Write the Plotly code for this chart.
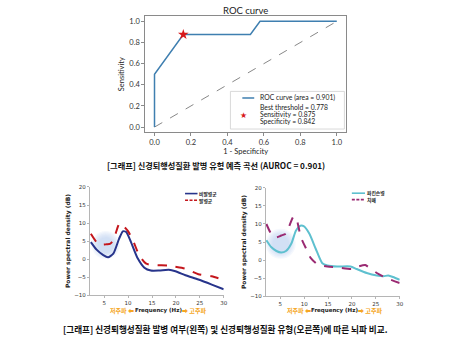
import plotly.graph_objects as go

W, H = 450, 340

# ---- ROC data ----
roc_fpr = [0.0, 0.0, 0.158, 0.526, 0.579, 1.0]
roc_tpr = [0.0, 0.5, 0.875, 0.875, 1.0, 1.0]
best_fpr, best_tpr = 0.158, 0.875
roc_auc = 0.901
best_threshold = 0.778
sensitivity = 0.875
specificity = 0.842

# ---- PSD data (left: onset vs non-onset) ----
freq_nononset = [2.2, 3.4, 4.8, 5.8, 6.9, 8.1, 8.9, 9.6, 10.6, 12.0, 13.4, 14.75, 16.5, 18.5, 19.9, 22.0, 24.7, 27.5, 30.0]
psd_nononset = [4.7, 2.6, 1.1, 0.5, 1.5, 5.6, 7.7, 7.5, 4.7, 0.2, -2.4, -3.2, -3.2, -3.0, -3.4, -4.5, -5.7, -7.1, -8.4]
freq_onset = [2.2, 3.4, 4.5, 5.5, 6.2, 6.9, 7.7, 8.2, 8.9, 9.9, 11.0, 12.3, 13.7, 15.1, 18.5, 19.6, 22.0, 24.7, 27.5, 30.0]
psd_onset = [7.0, 4.7, 4.0, 4.1, 4.2, 5.2, 8.4, 9.9, 9.3, 7.9, 5.2, 1.1, -1.2, -1.7, -1.8, -2.1, -2.7, -4.2, -4.8, -5.8]

# ---- PSD data (right: Parkinson's vs dementia) ----
freq_pd = [2.1, 3.1, 4.2, 5.2, 6.2, 7.3, 8.3, 9.2, 9.9, 11.1, 12.4, 13.8, 14.85, 16.9, 19.7, 21.0, 23.1, 25.2, 26.6, 27.6, 28.6, 30.0]
psd_pd = [5.5, 3.6, 2.5, 2.1, 2.5, 4.5, 8.2, 9.5, 9.4, 7.3, 3.2, -0.9, -1.5, -1.8, -1.8, -2.5, -3.6, -4.3, -4.5, -4.3, -4.7, -5.5]
freq_dem = [2.1, 3.1, 4.2, 5.2, 6.2, 6.9, 7.8, 8.5, 9.3, 10.4, 11.4, 12.8, 14.85, 16.9, 20.0, 21.4, 22.8, 23.8, 25.2, 27.2, 30.0]
psd_dem = [10.0, 7.3, 6.3, 6.8, 7.3, 9.5, 12.1, 10.9, 6.4, 3.2, 0.5, -1.2, -1.8, -2.0, -2.5, -1.8, -1.4, -2.3, -3.6, -5.0, -6.4]

freq_ticks = [5, 10, 15, 20, 25, 30]
psd_ticks = [-10, -5, 0, 5, 10, 15, 20]
roc_ticks = [0.0, 0.2, 0.4, 0.6, 0.8, 1.0]

left_names = ["비발병군", "발병군"]
right_names = ["파킨슨병", "치매"]

C_ROC = "#3f7fb0"
C_NON = "#27348b"
C_ONS = "#c4161c"
C_PD = "#5ec0cf"
C_DEM = "#9a2a72"
ORANGE = "#f5a623"

KFONT = "Noto Sans CJK KR"
RFONT = "Lato"


def px(x):
    return x / W


def py(y):
    return 1 - y / H


fig = go.Figure()

# ROC panel
fig.add_trace(go.Scatter(x=[0, 1], y=[0, 1], mode="lines",
                         line=dict(color="#888", width=1, dash="dash"),
                         xaxis="x", yaxis="y", showlegend=False))
fig.add_trace(go.Scatter(x=roc_fpr, y=roc_tpr, mode="lines",
                         line=dict(color=C_ROC, width=1.5),
                         xaxis="x", yaxis="y", showlegend=False))
fig.add_trace(go.Scatter(x=[best_fpr], y=[best_tpr], mode="markers",
                         marker=dict(symbol="star", size=8, color="#d7191c"),
                         xaxis="x", yaxis="y", showlegend=False))

# left PSD panel
fig.add_trace(go.Scatter(x=freq_nononset, y=psd_nononset, mode="lines",
                         line=dict(color=C_NON, width=2, shape="spline", smoothing=0.6),
                         xaxis="x2", yaxis="y2", showlegend=False))
fig.add_trace(go.Scatter(x=freq_onset, y=psd_onset, mode="lines",
                         line=dict(color=C_ONS, width=2, dash="dash", shape="spline", smoothing=0.6),
                         xaxis="x2", yaxis="y2", showlegend=False))

# right PSD panel
fig.add_trace(go.Scatter(x=freq_pd, y=psd_pd, mode="lines",
                         line=dict(color=C_PD, width=2, shape="spline", smoothing=0.6),
                         xaxis="x3", yaxis="y3", showlegend=False))
fig.add_trace(go.Scatter(x=freq_dem, y=psd_dem, mode="lines",
                         line=dict(color=C_DEM, width=2, dash="dash", shape="spline", smoothing=0.6),
                         xaxis="x3", yaxis="y3", showlegend=False))

roc_axis = dict(showline=True, mirror=True, linecolor="#8a8a8a", linewidth=1.2,
                ticks="outside", ticklen=3, tickcolor="#8a8a8a",
                showgrid=False, zeroline=False, tickvals=roc_ticks, tickformat=".1f",
                range=[-0.05, 1.05],
                tickfont=dict(family=RFONT, size=7.5, color="#333"))
psd_x = dict(showline=True, linecolor="#b5b5b5", linewidth=1, ticks="outside", ticklen=2,
             tickcolor="#b5b5b5", showgrid=False, zeroline=False, range=[2, 30],
             tickvals=freq_ticks, tickfont=dict(family="DejaVu Sans", size=5.5, color="#333"))
psd_y = dict(showline=True, linecolor="#b5b5b5", linewidth=1, ticks="outside", ticklen=2,
             tickcolor="#b5b5b5", showgrid=False, zeroline=False, range=[-10, 20],
             tickvals=psd_ticks, tickfont=dict(family="DejaVu Sans", size=5.5, color="#333"))

ytitle_font = dict(family="DejaVu Sans", size=6, color="#222")

fig.update_layout(
    width=W, height=H, margin=dict(l=0, r=0, t=0, b=0),
    paper_bgcolor="white", plot_bgcolor="white", showlegend=False,
    xaxis=dict(roc_axis, domain=[px(146.7), px(349)], anchor="y",
               title=dict(text="1 - Specificity", font=dict(family=RFONT, size=7.5, color="#222"), standoff=2)),
    yaxis=dict(roc_axis, domain=[py(131.7), py(13.3)], anchor="x",
               title=dict(text="Sensitivity", font=dict(family=RFONT, size=7.5, color="#222"), standoff=3)),
    xaxis2=dict(psd_x, domain=[px(90.7), px(225.7)], anchor="y2"),
    yaxis2=dict(psd_y, domain=[py(297.3), py(187.3)], anchor="x2",
                title=dict(text="<b>Power spectral density (dB)</b>", font=ytitle_font, standoff=3)),
    xaxis3=dict(psd_x, domain=[px(268.3), px(403.3)], anchor="y3"),
    yaxis3=dict(psd_y, domain=[py(298.3), py(188.3)], anchor="x3",
                title=dict(text="<b>Power spectral density (dB)</b>", font=ytitle_font, standoff=3)),
)

shapes = []
# soft glow around the low-frequency region
for xr, yr, cx, cy, r in [("x2", "y2", 5.3, 3.9, 14), ("x3", "y3", 5.1, 4.5, 15)]:
    n = 6
    for i in range(n):
        rr = r * (1.0 - i * 0.09)
        shapes.append(dict(type="circle", xref=xr, yref=yr, layer="below",
                           xsizemode="pixel", ysizemode="pixel", xanchor=cx, yanchor=cy,
                           x0=-rr, x1=rr, y0=-rr, y1=rr,
                           fillcolor="rgba(185,206,238,0.14)", line=dict(width=0)))

# ROC legend box
shapes.append(dict(type="rect", xref="paper", yref="paper",
                   x0=px(232.5), x1=px(347.5), y0=py(128.3), y1=py(90),
                   line=dict(color="#cfcfcf", width=0.8), fillcolor="rgba(255,255,255,0.9)"))
shapes.append(dict(type="line", xref="paper", yref="paper",
                   x0=px(244.5), x1=px(256.5), y0=py(96.7), y1=py(96.7),
                   line=dict(color=C_ROC, width=1.5)))

# PSD legends
leg_items = [
    (186.7, 199.3, 194.0, C_NON, "solid", left_names[0]),
    (186.7, 199.3, 200.8, C_ONS, "dash", left_names[1]),
    (355.0, 368.3, 193.6, C_PD, "solid", right_names[0]),
    (355.0, 368.3, 200.2, C_DEM, "dash", right_names[1]),
]
annotations = []
for x0, x1, yy, col, dash, name in leg_items:
    shapes.append(dict(type="line", xref="paper", yref="paper",
                       x0=px(x0), x1=px(x1), y0=py(yy), y1=py(yy),
                       line=dict(color=col, width=1.6, dash="3px,1.5px" if dash == "dash" else "solid")))
    annotations.append(dict(x=px(x1 + 0.8), y=py(yy), xref="paper", yref="paper",
                            xanchor="left", yanchor="middle", showarrow=False, borderpad=0,
                            text=f"<b>{name}</b>",
                            font=dict(family=KFONT, size=4.8, color="#222")))


def note(x, y, text, font, xanchor="center", align="center"):
    return dict(x=px(x), y=py(y), xref="paper", yref="paper", xanchor=xanchor,
                yanchor="middle", showarrow=False, text=text, font=font, align=align,
                borderpad=0)


leg_font = dict(family=RFONT, size=6.8, color="#222")
# ROC title and legend text
annotations += [
    note(248, 7.5, "ROC curve", dict(family=RFONT, size=9.5, color="#222")),
    note(261, 96.5, f"ROC curve (area = {roc_auc:.3f})", leg_font, "left"),
    note(261, 106.2, f"Best threshold = {best_threshold:.3f}", leg_font, "left"),
    note(261, 113.3, f"Sensitivity = {sensitivity:.3f}", leg_font, "left"),
    note(261, 120.4, f"Specificity = {specificity:.3f}", leg_font, "left"),
    note(246, 115, "★", dict(family="DejaVu Sans", size=8, color="#d7191c")),
    note(218, 165, f"<b>[그래프] 신경퇴행성질환 발병 유형 예측 곡선 (AUROC = {roc_auc:.3f})</b>",
         dict(family=KFONT, size=8.2, color="#111")),
    note(228, 331.5, "<b>[그래프] 신경퇴행성질환 발병 여부(왼쪽) 및 신경퇴행성질환 유형(오른쪽)에 따른 뇌파 비교.</b>",
         dict(family=KFONT, size=8.6, color="#111")),
]

# frequency axis captions with low/high frequency arrows
for cx in (159.5, 337.5):
    annotations += [
        note(cx, 312.7, "<b>Frequency (Hz)</b>", dict(family="DejaVu Sans", size=5.5, color="#222")),
        note(cx - 23, 312.7, "<b>저주파 ⬅</b>", dict(family=KFONT, size=6, color=ORANGE), "right"),
        note(cx + 23, 312.7, "<b>➡ 고주파</b>", dict(family=KFONT, size=6, color=ORANGE), "left"),
    ]

fig.update_layout(shapes=shapes, annotations=annotations)
fig.write_html("out.html")
